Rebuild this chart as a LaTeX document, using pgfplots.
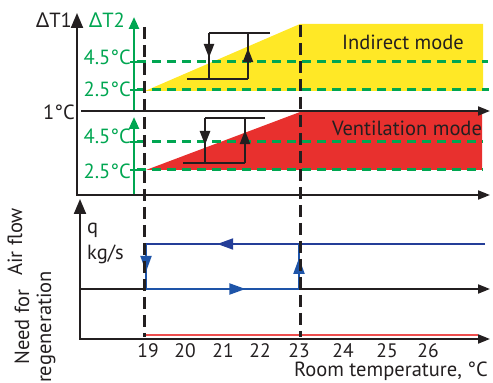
\documentclass[border=0pt]{standalone}
\usepackage{fontspec}
\setmainfont{PT Sans}
\newfontfamily\gr{Noto Sans}
\usepackage{pgfplots}
\pgfplotsset{compat=1.18}
\usetikzlibrary{arrows.meta,decorations.markings}
\definecolor{cyel}{RGB}{255,232,38}
\definecolor{cred}{RGB}{232,48,46}
\definecolor{cgreen}{RGB}{0,166,81}
\definecolor{cblue}{RGB}{36,62,152}
\definecolor{cblue2}{RGB}{30,84,168}
\definecolor{clred}{RGB}{238,78,78}
\definecolor{cblk}{RGB}{35,31,32}
\tikzset{
  midarrow/.style={postaction={decorate},decoration={markings,mark=at position #1 with {\arrow{Triangle[length=14pt,width=10pt]}}}},
  bigarrow/.style={postaction={decorate},decoration={markings,mark=at position #1 with {\arrow{Triangle[length=16pt,width=11pt]}}}},
  lbl/.style={font=\fontsize{20.5}{22}\selectfont, text=cblk, inner sep=0pt},
  glbl/.style={font=\fontsize{20.5}{22}\selectfont, text=cgreen, inner sep=0pt},
  tlbl/.style={font=\fontsize{19.5}{21}\selectfont, text=cblk, inner sep=0pt, anchor=base},
}
\begin{document}
\begin{tikzpicture}
\begin{axis}[name=ax, width=493pt, height=383pt, scale only axis,
  xmin=0, xmax=493, ymin=0, ymax=383, axis lines=none, clip=false]
% areas
\addplot[fill=cyel, draw=none] coordinates {(145,292)(300,359)(483,359)(483,292)} -- cycle;
\addplot[fill=cred, draw=none] coordinates {(146,213)(300,271)(482,271)(482,213)} -- cycle;
% green dashed thresholds
\addplot[cgreen, line width=3pt, dash pattern=on 9pt off 6pt] coordinates {(137,321)(488,321)};
\addplot[cgreen, line width=3pt, dash pattern=on 9pt off 6pt] coordinates {(137,293)(489,293)};
\addplot[cgreen, line width=3pt, dash pattern=on 9pt off 6pt] coordinates {(137,241)(483,241)};
\addplot[cgreen, line width=3pt, dash pattern=on 9pt off 6pt] coordinates {(137,213)(483,213)};
% black axes
\addplot[cblk, line width=2pt, -{Triangle[length=15pt,width=12pt]}] coordinates {(77,187)(77,370)};
\addplot[cblk, line width=2pt, -{Triangle[length=15pt,width=12pt]}] coordinates {(80,43)(80,184)};
\addplot[cblk, line width=2pt, -{Triangle[length=12pt,width=9pt]}] coordinates {(81,272)(490,272)};
\addplot[cblk, line width=2pt, -{Triangle[length=12pt,width=9pt]}] coordinates {(77,188)(490,188)};
\addplot[cblk, line width=2pt, -{Triangle[length=12pt,width=9pt]}] coordinates {(80,44)(490,44)};
\addplot[cblk, line width=2pt] coordinates {(80,94)(146,94)};
\addplot[cblk, line width=2pt, -{Triangle[length=12pt,width=9pt]}] coordinates {(299,94)(490,94)};
% green axes
\addplot[cgreen, line width=2.5pt, -{Triangle[length=12pt,width=10pt]}] coordinates {(134,273)(134,366)};
\addplot[cgreen, line width=2.5pt, -{Triangle[length=12pt,width=10pt]}] coordinates {(134,189)(134,266)};
\addplot[cgreen, line width=2.5pt] coordinates {(130,321)(138,321)};
\addplot[cgreen, line width=2.5pt] coordinates {(130,293)(138,293)};
\addplot[cgreen, line width=2.5pt] coordinates {(130,241)(138,241)};
\addplot[cgreen, line width=2.5pt] coordinates {(130,213)(138,213)};
% red line
\addplot[clred, line width=2.5pt] coordinates {(146,48)(478,48)};
% blue hysteresis of air flow
\addplot[cblue, line width=2pt, bigarrow=0.79] coordinates {(485,139)(146,139)};
\addplot[cblue2, line width=2pt, bigarrow=0.65] coordinates {(146,94)(299,94)};
\addplot[cblue2, line width=2pt, bigarrow=0.62] coordinates {(146,139)(146,94)};
\addplot[cblue2, line width=2pt, bigarrow=0.69] coordinates {(299,94)(299,139)};
% black dashed verticals
\addplot[cblk, line width=3pt, dash pattern=on 12pt off 6pt] coordinates {(144,356)(144,46)};
\addplot[cblk, line width=3pt, dash pattern=on 12pt off 6pt] coordinates {(300,358)(300,46)};
% hysteresis symbols
\addplot[cblk, line width=2.5pt] coordinates {(270,350)(209,350)};
\addplot[cblk, line width=2.5pt, midarrow=0.54] coordinates {(209,350)(209,304)};
\addplot[cblk, line width=2.5pt] coordinates {(187,304)(248,304)};
\addplot[cblk, line width=2.5pt, midarrow=0.67] coordinates {(248,304)(248,350)};
\addplot[cblk, line width=2.5pt] coordinates {(265,265)(205,265)};
\addplot[cblk, line width=2.5pt, midarrow=0.6] coordinates {(205,265)(205,220)};
\addplot[cblk, line width=2.5pt] coordinates {(183,220)(245,220)};
\addplot[cblk, line width=2.5pt, midarrow=0.73] coordinates {(245,220)(245,265)};
% texts
\node[lbl] at (axis cs:54,363) {{\gr Δ}T1};
\node[glbl] at (axis cs:107,363) {{\gr Δ}T2};
\node[lbl] at (axis cs:59,271) {1°C};
\node[glbl, anchor=east] at (axis cs:131,326) {4.5°C};
\node[glbl, anchor=east] at (axis cs:131,294) {2.5°C};
\node[glbl, anchor=east] at (axis cs:131,247) {4.5°C};
\node[glbl, anchor=east] at (axis cs:131,212) {2.5°C};
\node[lbl] at (axis cs:403,341) {Indirect mode};
\node[lbl] at (axis cs:407,255) {Ventilation mode};
\node[lbl, anchor=base west] at (axis cs:87,149) {q};
\node[lbl, anchor=base west] at (axis cs:87,123) {kg/s};
\node[lbl, rotate=90] at (axis cs:15,141) {Air flow};
\node[lbl, rotate=90, align=center] at (axis cs:35,56) {Need for\\regeneration};
\node[tlbl] at (axis cs:148,25) {19};
\node[tlbl] at (axis cs:185,25) {20};
\node[tlbl] at (axis cs:223,25) {21};
\node[tlbl] at (axis cs:260,25) {22};
\node[tlbl] at (axis cs:299,25) {23};
\node[tlbl] at (axis cs:343,25) {24};
\node[tlbl] at (axis cs:387,25) {25};
\node[tlbl] at (axis cs:428,25) {26};
\node[lbl, anchor=base] at (axis cs:391,6) {Room temperature, °C};
\end{axis}
\pgfresetboundingbox
\path[use as bounding box] (ax.south west) rectangle (ax.north east);
\end{tikzpicture}
\end{document}
